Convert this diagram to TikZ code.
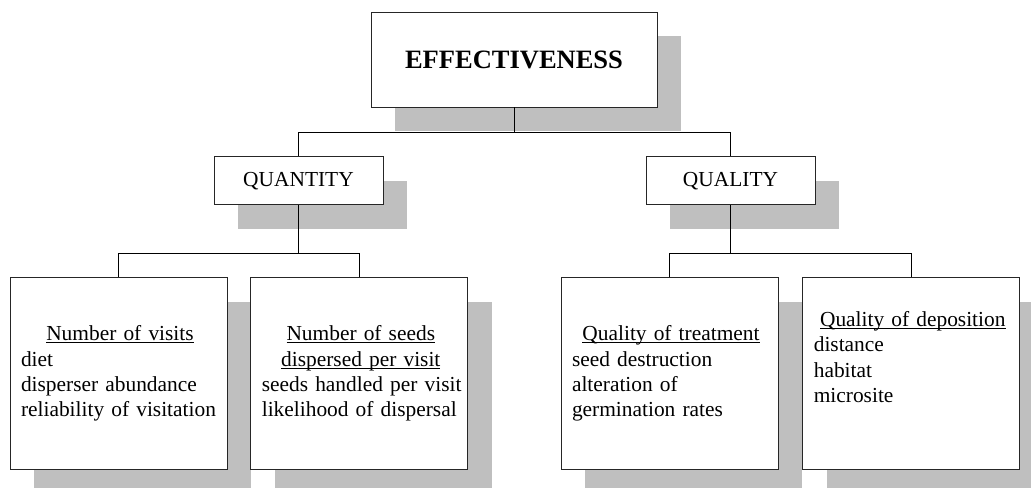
\documentclass[tikz,border=0pt]{standalone}
\usepackage{fontspec}
\setmainfont{Liberation Serif}
\usetikzlibrary{positioning, shadows}

\newcommand{\uln}[1]{\sbox0{#1}\makebox[0pt][l]{\rule[-2.5bp]{\wd0}{0.9bp}}\usebox0}
\newcommand{\headline}[1]{\makebox[\dimexpr\linewidth-11bp\relax]{\uln{#1}}}

\begin{document}
\begin{tikzpicture}[
      node distance=49bp and 23bp,
      shadebox/.style={draw=black!85, line width=0.8bp, fill=white, drop shadow={shadow xshift=24bp, shadow yshift=-24bp, fill=black!25, opacity=1}},
      headbox/.style={shadebox, minimum width=286bp, minimum height=95bp, inner sep=0pt, font=\fontsize{26.5bp}{30bp}\selectfont\bfseries},
      groupbox/.style={shadebox, minimum width=169bp, minimum height=48bp, inner sep=0pt, font=\fontsize{21.4bp}{25.4bp}\selectfont},
      factorbox/.style={shadebox, text width=209bp, inner xsep=4bp, inner ysep=0pt, minimum height=192bp, align=left,
        font=\fontsize{21.4bp}{25.4bp}\selectfont, execute at begin node={\leftskip=7bp\hyphenpenalty=10000}},
      wire/.style={black, line width=0.8bp}
    ]
    \useasboundingbox (0,0) rectangle (1031bp,-488bp);

    \node[headbox] (eff) at (514bp,-59.5bp) {EFFECTIVENESS};

    \node[groupbox, below=49bp of eff, xshift=-215.5bp] (qty) {QUANTITY};
    \node[groupbox, below=49bp of eff, xshift=216.5bp] (qly) {QUALITY};

    \node[factorbox, below=72bp of qty, xshift=-180bp] (visits)
      {\headline{Number of visits}\\diet\\disperser abundance\\reliability of visitation};
    \node[factorbox, right=of visits] (seeds)
      {\headline{Number of seeds}\\\headline{dispersed per visit}\\seeds handled per visit\\likelihood of dispersal};
    \node[factorbox, below=72bp of qly, xshift=-61bp] (treat)
      {\headline{Quality of treatment}\\seed destruction\\alteration of\\germination rates};
    \node[factorbox, right=24bp of treat] (depo)
      {\headline{Quality of deposition}\\distance\\habitat\\microsite\\\strut};

    \draw[wire] (eff.south) -- ++(0,-25bp) -| (qty.north);
    \draw[wire] (eff.south) -- ++(0,-25bp) -| (qly.north);
    \draw[wire] (qty.south) -- ++(0,-48bp) -| (visits.north);
    \draw[wire] (qty.south) -- ++(0,-48bp) -| (seeds.north);
    \draw[wire] (qly.south) -- ++(0,-48bp) -| (treat.north);
    \draw[wire] (qly.south) -- ++(0,-48bp) -| (depo.north);
  \end{tikzpicture}
\end{document}
